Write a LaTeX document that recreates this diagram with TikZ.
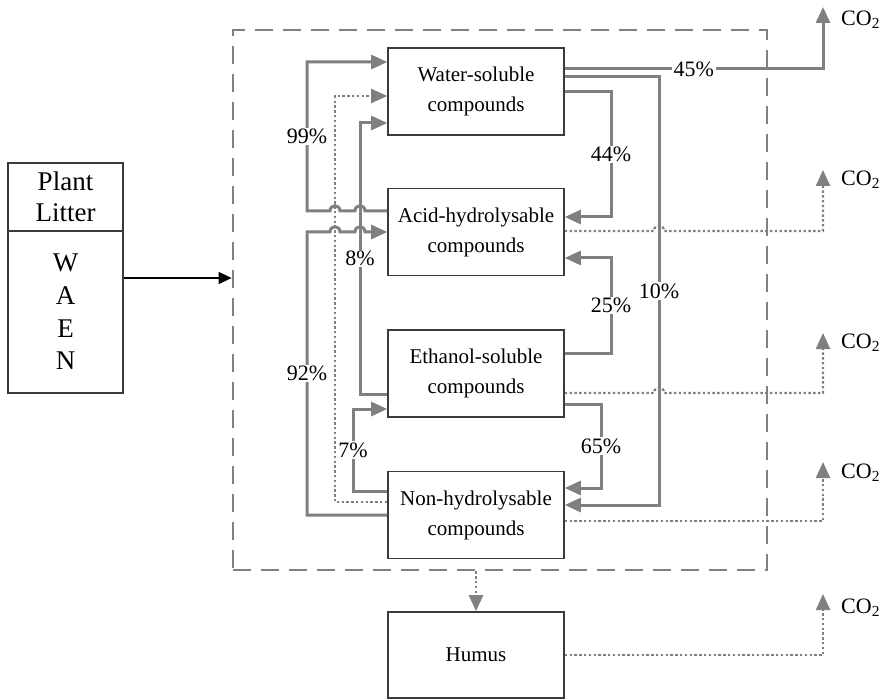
\documentclass[tikz,border=0pt]{standalone}
\usepackage{fontspec}
\setmainfont{Liberation Serif}
\usetikzlibrary{arrows.meta}
\definecolor{lg}{HTML}{808080}
\definecolor{bd}{HTML}{3A3A3A}
\begin{document}
\begin{tikzpicture}[x=1pt,y=-1pt,
  box/.style={draw=bd,line width=1.6pt,minimum width=176pt,minimum height=87pt,align=center,inner sep=0pt,font=\fontsize{21}{30}\selectfont},
  gtip/.style={-{Triangle[length=16pt,width=14pt]}},
  gl/.style={draw=lg,line width=3pt},
  dl/.style={draw=lg,line width=2.4pt,dash pattern=on 2.4pt off 2.4pt},
  lbl/.style={fill=white,inner sep=1.5pt,font=\fontsize{22}{24}\selectfont},
  co/.style={anchor=west,font=\fontsize{22}{24}\selectfont,inner sep=0pt}]
\useasboundingbox (0,0) rectangle (885,700);

% container
\node[draw=lg,line width=2.8pt,dash pattern=on 18pt off 10pt,minimum width=534pt,minimum height=540pt,inner sep=0pt] (ct) at (500,300) {};

% plant litter
\node[draw=bd,line width=1.6pt,minimum width=115pt,minimum height=68pt,inner sep=0pt,align=center,font=\fontsize{27}{31}\selectfont] (pl) at (65.5,197) {Plant\\Litter};
\node[draw=bd,line width=1.6pt,minimum width=115pt,minimum height=162pt,inner sep=0pt,align=center,font=\fontsize{27}{32.7}\selectfont] (waen) at (65.5,312) {W\\A\\E\\N};
\draw[line width=1.6pt,-{Triangle[length=13pt,width=12pt]}] (waen.east |- 0,278) -- (ct.west |- 0,278);

% boxes
\node[box] (ws) at (476,91.5) {Water-soluble\\compounds};
\node[box] (ah) at (476,232) {Acid-hydrolysable\\compounds};
\node[box] (es) at (476,373.5) {Ethanol-soluble\\compounds};
\node[box] (nh) at (476,515) {Non-hydrolysable\\compounds};
\node[box,minimum height=86pt] (hm) at (476,655) {Humus};

% CO2 targets
\coordinate (t1) at (823,7);
\coordinate (t2) at (823,170);
\coordinate (t3) at (823,333);
\coordinate (t4) at (823,462);
\coordinate (t5) at (823,594);
\node[co] (c1) at (841,20) {CO\textsubscript{2}};
\node[co] (c2) at (841,180) {CO\textsubscript{2}};
\node[co] (c3) at (841,343) {CO\textsubscript{2}};
\node[co] (c4) at (841,473) {CO\textsubscript{2}};
\node[co] (c5) at (841,608) {CO\textsubscript{2}};

% right side
\draw[gl,gtip] (ws.east |- 0,69) -- node[lbl] {45\%} (t1 |- 0,69) -- (t1);
\draw[gl,gtip] (ws.east |- 0,77) -- (659,77) -- node[lbl] {10\%} (659,505) -- (nh.east |- 0,505);
\draw[gl,gtip] (ws.east |- 0,92) -- (611,92) -- node[lbl] {44\%} (611,217) -- (ah.east |- 0,217);
\draw[gl,gtip] (es.east |- 0,353) -- (611,353) -- node[lbl] {25\%} (611,258) -- (ah.east |- 0,258);
\draw[gl,gtip] (es.east |- 0,404) -- (601,404) -- node[lbl] {65\%} (601,488) -- (nh.east |- 0,488);

\draw[dl,gtip] (ah.east |- 0,231) -- (654,231) .. controls (654,224) and (664,224) .. (664,231) -- (t2 |- 0,231) -- (t2);
\draw[dl,gtip] (es.east |- 0,393) -- (654,393) .. controls (654,386) and (664,386) .. (664,393) -- (t3 |- 0,393) -- (t3);
\draw[dl,gtip] (nh.east |- 0,521) -- (t4 |- 0,521) -- (t4);
\draw[dl,gtip] (hm.east |- 0,655) -- (t5 |- 0,655) -- (t5);

% left side
\draw[dl,gtip] (nh.west |- 0,502) -- (335,502) -- (335,96) -- (ws.west |- 0,96);
\draw[gl,gtip] (es.west |- 0,394) -- (360,394) -- node[lbl] {8\%} (360,123) -- (ws.west |- 0,123);
\draw[gl,gtip] (ah.west |- 0,211) -- (365,211) .. controls (365,204) and (355,204) .. (355,211)
  -- (340,211) .. controls (340,204) and (330,204) .. (330,211)
  -- (307,211) -- node[lbl] {99\%} (307,62) -- (ws.west |- 0,62);
\draw[gl,gtip] (nh.west |- 0,515) -- (307,515) -- node[lbl] {92\%} (307,232) -- (330,232)
  .. controls (330,225) and (340,225) .. (340,232) -- (355,232)
  .. controls (355,225) and (365,225) .. (365,232) -- (ah.west |- 0,232);
\draw[gl,gtip] (nh.west |- 0,491) -- (353,491) -- node[lbl] {7\%} (353,409) -- (es.west |- 0,409);

% to humus
\draw[dl,gtip] (hm.north |- ct.south) -- (hm.north);
\end{tikzpicture}
\end{document}
